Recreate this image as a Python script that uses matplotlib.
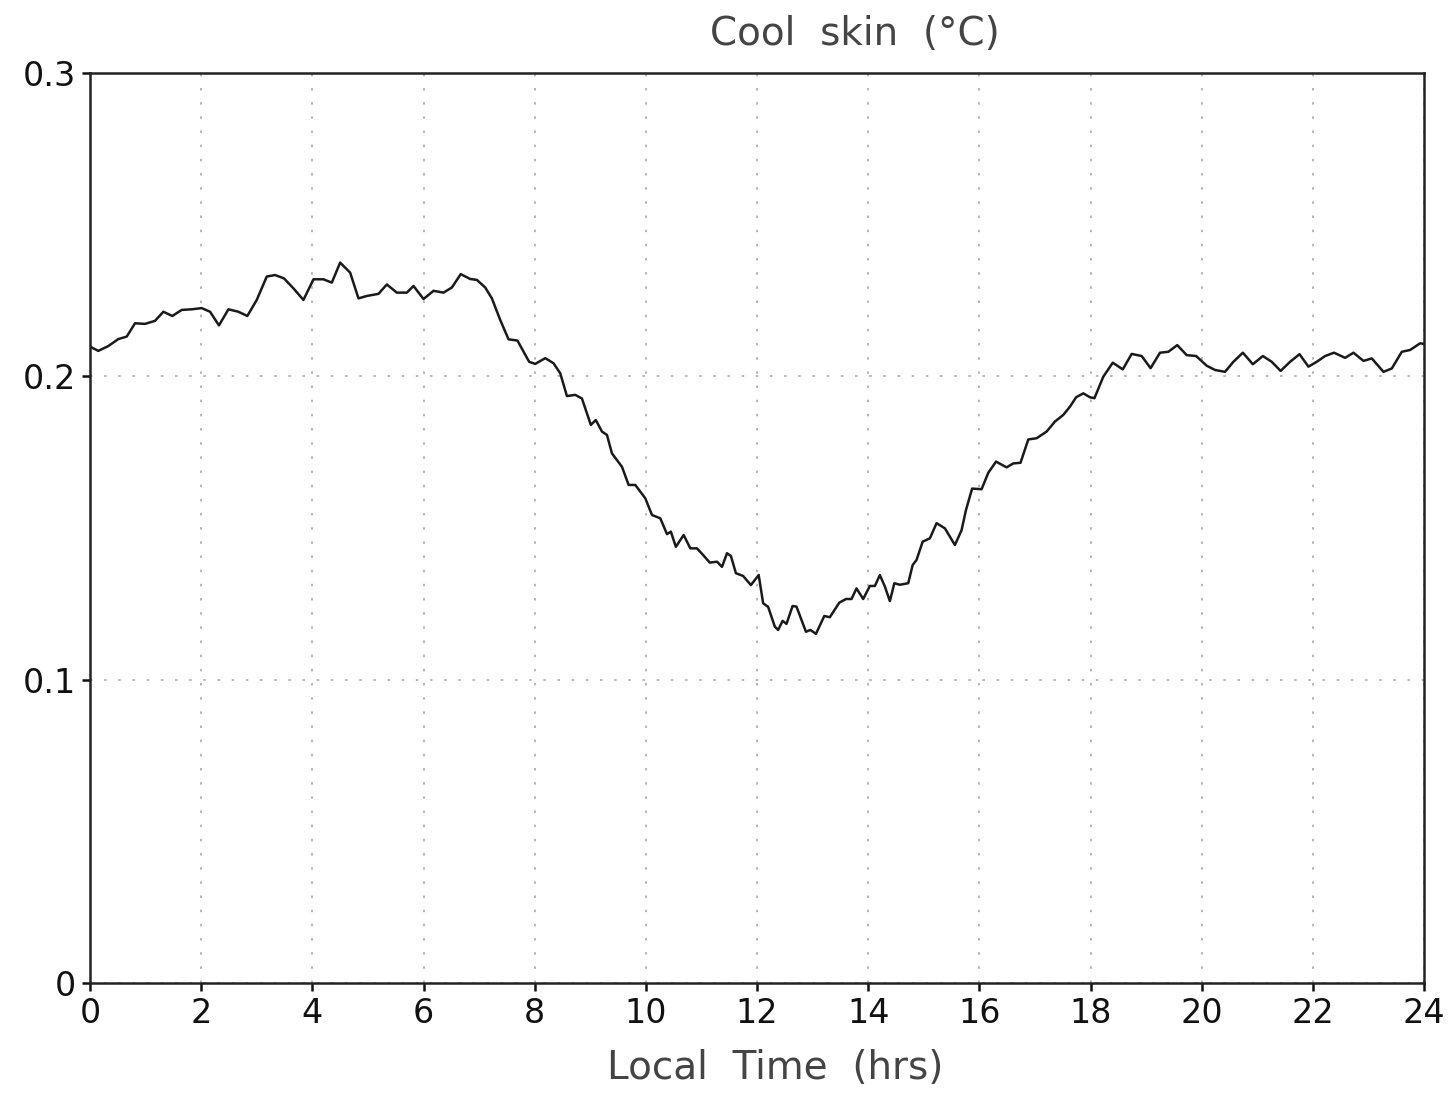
import matplotlib
matplotlib.use("Agg")
import matplotlib.pyplot as plt

# Diurnal composite of the cool-skin temperature correction
hours = [
    0.00, 0.15, 0.33, 0.51, 0.66, 0.81, 0.99, 1.17, 1.32, 1.48, 1.65, 1.83,
    2.01, 2.16, 2.32, 2.49, 2.67, 2.83, 3.00, 3.18, 3.33, 3.49, 3.66, 3.84,
    4.02, 4.20, 4.35, 4.50, 4.68, 4.83, 4.98, 5.19, 5.34, 5.52, 5.70, 5.82,
    6.00, 6.18, 6.36, 6.51, 6.67, 6.84, 6.96, 7.11, 7.23, 7.38, 7.53, 7.69,
    7.80, 7.90, 8.01, 8.19, 8.34, 8.46, 8.58, 8.73, 8.85, 9.01, 9.10, 9.21,
    9.30, 9.39, 9.57, 9.69, 9.81, 9.99, 10.11, 10.26, 10.38, 10.45, 10.54,
    10.68, 10.80, 10.92, 11.03, 11.15, 11.28, 11.37, 11.46, 11.53, 11.62,
    11.75, 11.89, 12.03, 12.11, 12.20, 12.32, 12.38, 12.46, 12.53, 12.64,
    12.71, 12.88, 12.96, 13.06, 13.21, 13.31, 13.48, 13.60, 13.70, 13.79,
    13.91, 14.03, 14.12, 14.21, 14.30, 14.39, 14.47, 14.57, 14.72, 14.80,
    14.87, 14.98, 15.11, 15.23, 15.38, 15.56, 15.68, 15.76, 15.87, 16.04,
    16.16, 16.30, 16.49, 16.61, 16.74, 16.88, 17.03, 17.21, 17.36, 17.51,
    17.63, 17.74, 17.87, 17.99, 18.07, 18.23, 18.40, 18.58, 18.74, 18.92,
    19.08, 19.25, 19.40, 19.56, 19.73, 19.90, 20.09, 20.24, 20.42, 20.57,
    20.74, 20.92, 21.10, 21.26, 21.42, 21.59, 21.76, 21.92, 22.07, 22.22,
    22.38, 22.58, 22.73, 22.91, 23.06, 23.27, 23.42, 23.60, 23.75, 23.93,
    24.00,
]
cool_skin = [
    0.2098, 0.2084, 0.2100, 0.2123, 0.2131, 0.2175, 0.2173, 0.2183, 0.2213,
    0.2199, 0.2219, 0.2221, 0.2225, 0.2213, 0.2168, 0.2221, 0.2213, 0.2199,
    0.2252, 0.2329, 0.2334, 0.2323, 0.2290, 0.2252, 0.2320, 0.2320, 0.2309,
    0.2375, 0.2342, 0.2257, 0.2265, 0.2272, 0.2303, 0.2276, 0.2276, 0.2298,
    0.2255, 0.2282, 0.2276, 0.2293, 0.2337, 0.2321, 0.2318, 0.2293, 0.2257,
    0.2186, 0.2122, 0.2118, 0.2081, 0.2048, 0.2041, 0.2060, 0.2043, 0.2010,
    0.1935, 0.1939, 0.1927, 0.1840, 0.1856, 0.1818, 0.1807, 0.1746, 0.1702,
    0.1642, 0.1642, 0.1598, 0.1543, 0.1532, 0.1480, 0.1488, 0.1438, 0.1477,
    0.1433, 0.1433, 0.1411, 0.1386, 0.1389, 0.1372, 0.1417, 0.1408, 0.1351,
    0.1342, 0.1312, 0.1345, 0.1252, 0.1240, 0.1175, 0.1164, 0.1194, 0.1184,
    0.1243, 0.1241, 0.1158, 0.1164, 0.1151, 0.1210, 0.1206, 0.1254, 0.1266,
    0.1266, 0.1301, 0.1266, 0.1309, 0.1309, 0.1345, 0.1307, 0.1259, 0.1318,
    0.1313, 0.1318, 0.1378, 0.1395, 0.1455, 0.1466, 0.1516, 0.1499, 0.1444,
    0.1493, 0.1560, 0.1630, 0.1628, 0.1682, 0.1719, 0.1700, 0.1713, 0.1715,
    0.1792, 0.1796, 0.1818, 0.1851, 0.1873, 0.1900, 0.1931, 0.1944, 0.1931,
    0.1928, 0.1999, 0.2045, 0.2023, 0.2074, 0.2067, 0.2027, 0.2078, 0.2081,
    0.2103, 0.2070, 0.2067, 0.2035, 0.2021, 0.2015, 0.2048, 0.2078, 0.2040,
    0.2067, 0.2048, 0.2018, 0.2048, 0.2073, 0.2032, 0.2048, 0.2067, 0.2078,
    0.2061, 0.2078, 0.2051, 0.2059, 0.2015, 0.2026, 0.2081, 0.2087, 0.2109,
    0.2107,
]

x_ticks = list(range(0, 25, 2))
y_ticks = [0, 0.1, 0.2, 0.3]
y_tick_labels = ["0", "0.1", "0.2", "0.3"]

fig = plt.figure(figsize=(14.54, 10.93), dpi=100)
ax = fig.add_axes([0.0619, 0.1006, 0.9175, 0.8326])

ax.plot(hours, cool_skin, color="#1a1a1a", linewidth=1.8)

ax.set_xlim(0, 24)
ax.set_ylim(0, 0.3)
ax.set_xticks(x_ticks)
ax.set_yticks(y_ticks)
ax.set_yticklabels(y_tick_labels)

# sparse dotted grid at every tick
ax.grid(True, color="#aaaaaa", linestyle=(0, (1.5, 7)), linewidth=1.2)
ax.tick_params(axis="both", direction="out", length=6, width=1.8,
               labelsize=24, pad=4, colors="#111111")
for spine in ax.spines.values():
    spine.set_linewidth(1.8)
    spine.set_color("#222222")

ax.set_xlabel("Local  Time  (hrs)", fontsize=28, color="#444444")
ax.xaxis.set_label_coords(0.5135, -0.072)
fig.text(0.588, 0.969, "Cool  skin  (°C)", fontsize=28, color="#444444",
         ha="center", va="center")

plt.savefig("out.png", dpi=100, facecolor="white")
